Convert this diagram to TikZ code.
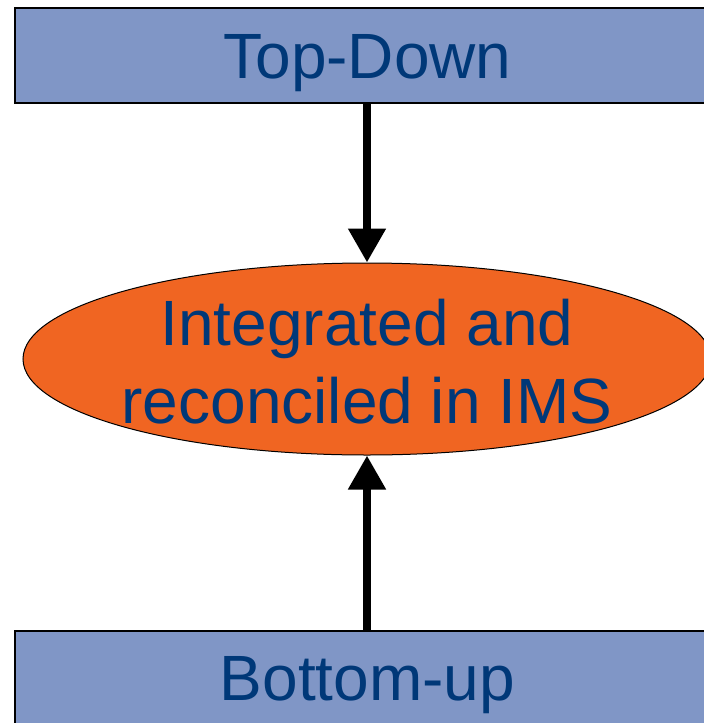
\documentclass[tikz,border=0pt]{standalone}
\usepackage{fontspec}
\setmainfont{Liberation Sans}
\usetikzlibrary{shapes.geometric,arrows.meta}
\definecolor{boxblue}{RGB}{128,150,198}
\definecolor{ellorange}{RGB}{240,101,34}
\definecolor{txtblue}{RGB}{0,56,120}
\tikzset{
  bigfont/.style={font=\fontsize{64}{78}\selectfont, text=txtblue},
  levelbox/.style={draw=black, line width=2pt, fill=boxblue, rectangle,
    minimum width=705pt, minimum height=95pt, inner sep=0pt,
    text height=45pt, text depth=0pt, bigfont},
  mergeell/.style={draw=black, line width=1pt, fill=ellorange, ellipse,
    minimum width=688pt, minimum height=192pt, inner sep=0pt,
    align=center, bigfont},
  flowarrow/.style={line width=8pt, -{Triangle[width=36pt,length=34pt]}}
}
\begin{document}
\begin{tikzpicture}[x=1pt,y=-1pt]
\useasboundingbox (0,0) rectangle (704,723);
\clip (0,0) rectangle (704,723);
\node[levelbox] (top) at (367.5,55.5) {Top-Down};
\node[mergeell] (mid) at (367,359) {};
\node[bigfont, align=center, inner sep=0pt] (midtext) at (367,362) {Integrated and\\reconciled in IMS};
\node[levelbox] (bot) at (367.5,678) {Bottom-up};
\draw[flowarrow] (top.south -| mid.north) -- (mid.north);
\draw[flowarrow] (bot.north -| mid.south) -- (mid.south);
\end{tikzpicture}
\end{document}
